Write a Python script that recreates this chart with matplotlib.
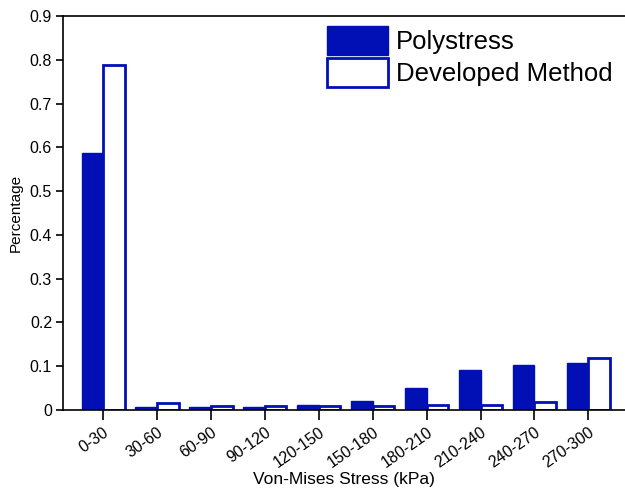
import numpy as np
import matplotlib.pyplot as plt
from matplotlib.transforms import ScaledTranslation

plt.rcParams['font.family'] = ['Liberation Sans', 'DejaVu Sans']

# stress bins (kPa) and fraction of elements in each bin
bins = ['0-30', '30-60', '60-90', '90-120', '120-150', '150-180',
        '180-210', '210-240', '240-270', '270-300']
polystress = [0.587, 0.007, 0.006, 0.007, 0.011, 0.021, 0.049, 0.091, 0.102, 0.107]
developed = [0.788, 0.015, 0.010, 0.010, 0.010, 0.009, 0.011, 0.011, 0.017, 0.119]

blue = '#0010b4'
x = np.arange(len(bins))
w = 0.40

fig = plt.figure(figsize=(6.25, 4.88), dpi=100)
ax = fig.add_axes([0.101, 0.160, 0.899, 0.807])

ax.bar(x - w / 2, polystress, w, color=blue, edgecolor=blue, lw=1,
       label='Polystress')
ax.bar(x + w / 2, developed, w, color='white', edgecolor=blue, lw=2,
       label='Developed Method')

ax.set_xlim(-0.742, 9.68)
ax.set_ylim(0, 0.9)
ax.set_yticks(np.arange(0, 0.91, 0.1))
ax.set_yticklabels(['0'] + [f'{v:.1f}' for v in np.arange(0.1, 0.91, 0.1)])
ax.set_xticks(x)
ax.set_xticklabels(bins, rotation=35, ha='right', rotation_mode='anchor')
# nudge the slanted labels so their ends sit just right of the ticks
shift = ScaledTranslation(8 / 100, 4 / 100, fig.dpi_scale_trans)
for lbl in ax.get_xticklabels():
    lbl.set_transform(lbl.get_transform() + shift)

ax.spines['right'].set_visible(False)
for s in ['left', 'bottom', 'top']:
    ax.spines[s].set_linewidth(1.2)
ax.tick_params(axis='both', direction='out', labelsize=11.5, width=1.2)
ax.tick_params(axis='y', length=5, pad=3)
ax.tick_params(axis='x', length=7)

ax.set_xlabel('Von-Mises Stress (kPa)', fontsize=12.5)
ax.xaxis.set_label_coords(0.5, -0.157)
ax.set_ylabel('Percentage', fontsize=11, labelpad=5)

ax.legend(loc='upper left', bbox_to_anchor=(0.443, 1.015), frameon=False,
          fontsize=18.5, handlelength=2.35, handleheight=1.37,
          labelspacing=0.12, handletextpad=0.32, borderaxespad=0.2)

fig.savefig('out.png', dpi=100)
